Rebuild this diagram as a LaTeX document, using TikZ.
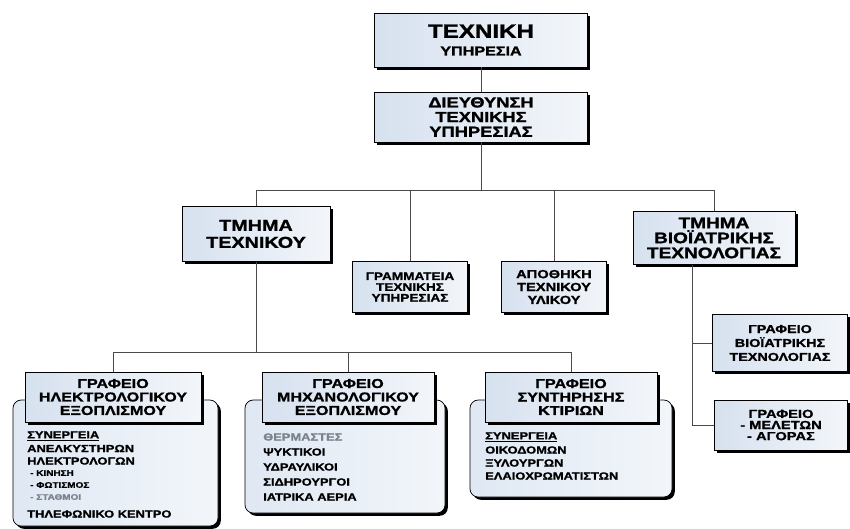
\documentclass[tikz,border=0pt]{standalone}
\usepackage{fontspec}
\newfontfamily\orgfont[FakeStretch=1.25, BoldFeatures={FakeBold=1.3}]{Liberation Sans}
\usetikzlibrary{positioning}
\usetikzlibrary{shadows}
\definecolor{boxblue}{HTML}{D6E1EF}
\definecolor{paneblue}{HTML}{DFE8F3}
\definecolor{linegray}{HTML}{4A4A4A}
\definecolor{fadetext}{HTML}{7C828C}
\newcommand{\unitpx}{0.03cm}

\begin{document}
\begin{tikzpicture}
	[x=0.03cm, y=-0.03cm,
	box/.style = {draw=black, line width=0.6pt, left color=boxblue, right color=boxblue!30!white, align=center, inner sep=0pt, font=\orgfont\bfseries,
		drop shadow={shadow xshift=2.4pt, shadow yshift=-2.4pt, fill=black, opacity=1}},
	pane/.style = {draw=black, line width=0.6pt, rounded corners=7pt, left color=paneblue, right color=paneblue!40!white,
		drop shadow={shadow xshift=2.4pt, shadow yshift=-2.4pt, fill=black, opacity=1}},
	link/.style = {draw=linegray, line width=0.7pt},
	item/.style = {anchor=west, inner sep=0pt, font=\orgfont\bfseries\fontsize{8.8}{10}\selectfont},
	subitem/.style = {item, font=\orgfont\bfseries\fontsize{6.8}{8}\selectfont}
	]
	\useasboundingbox[fill=white] (0,0) rectangle (850,528);

	% upper levels
	\node[box, minimum width=213*\unitpx, minimum height=54*\unitpx] (tech) at (481,40)
		{{\fontsize{16.5}{17}\selectfont ΤΕΧΝΙΚΗ}\\[3pt]{\fontsize{11}{11}\selectfont ΥΠΗΡΕΣΙΑ}};
	\node[box, minimum width=213*\unitpx, minimum height=50*\unitpx, font=\orgfont\bfseries\fontsize{12.5}{12.5}\selectfont] (dir) at (481,117)
		{ΔΙΕΥΘΥΝΣΗ\\ΤΕΧΝΙΚΗΣ\\ΥΠΗΡΕΣΙΑΣ};

	\node[box, minimum width=148*\unitpx, minimum height=55*\unitpx, font=\orgfont\bfseries\fontsize{13.5}{14.5}\selectfont] (tmtech) at (256,234)
		{ΤΜΗΜΑ\\ΤΕΧΝΙΚΟΥ};
	\node[box, minimum width=115*\unitpx, minimum height=51*\unitpx, font=\orgfont\bfseries\fontsize{9.3}{9.2}\selectfont] (gram) at (410,287)
		{ΓΡΑΜΜΑΤΕΙΑ\\ΤΕΧΝΙΚΗΣ\\ΥΠΗΡΕΣΙΑΣ};
	\node[box, minimum width=105*\unitpx, minimum height=51*\unitpx, font=\orgfont\bfseries\fontsize{10}{11}\selectfont] (apoth) at (554,287)
		{ΑΠΟΘΗΚΗ\\ΤΕΧΝΙΚΟΥ\\ΥΛΙΚΟΥ};
	\node[box, minimum width=162*\unitpx, minimum height=53*\unitpx, font=\orgfont\bfseries\fontsize{13}{12.8}\selectfont] (tmbio) at (714,238)
		{ΤΜΗΜΑ\\ΒΙΟΪΑΤΡΙΚΗΣ\\ΤΕΧΝΟΛΟΓΙΑΣ};

	% right branch
	\node[box, minimum width=135*\unitpx, minimum height=57*\unitpx, font=\orgfont\bfseries\fontsize{9.8}{11.9}\selectfont] (gbio) at (780,343)
		{ΓΡΑΦΕΙΟ\\ΒΙΟΪΑΤΡΙΚΗΣ\\ΤΕΧΝΟΛΟΓΙΑΣ};
	\node[box, minimum width=133*\unitpx, minimum height=50*\unitpx, font=\orgfont\bfseries\fontsize{10}{9.5}\selectfont] (gmel) at (781,425)
		{ΓΡΑΦΕΙΟ\\- ΜΕΛΕΤΩΝ\\- ΑΓΟΡΑΣ};

	% lower panels
	\draw[pane] (13,400) rectangle (218,526);
	\draw[pane] (245,400) rectangle (445,513);
	\draw[pane] (470,400) rectangle (672,497);

	\node[item] (elsyn) at (27,436) {\underline{ΣΥΝΕΡΓΕΙΑ}};
	\node[item] (elan) at (27,448.5) {ΑΝΕΛΚΥΣΤΗΡΩΝ};
	\node[item] (elhl) at (27,461) {ΗΛΕΚΤΡΟΛΟΓΩΝ};
	\node[subitem] (elkin) at (30,473) {- ΚΙΝΗΣΗ};
	\node[subitem] (elfot) at (30,485) {- ΦΩΤΙΣΜΟΣ};
	\node[subitem, text=fadetext] (elsta) at (30,497) {- ΣΤΑΘΜΟΙ};
	\node[item] (eltil) at (27,514) {ΤΗΛΕΦΩΝΙΚΟ ΚΕΝΤΡΟ};

	\node[item, text=fadetext] (mether) at (263,437) {ΘΕΡΜΑΣΤΕΣ};
	\node[item] (mepsy) at (263,452) {ΨΥΚΤΙΚΟΙ};
	\node[item] (mehyd) at (263,467) {ΥΔΡΑΥΛΙΚΟΙ};
	\node[item] (mesid) at (263,482) {ΣΙΔΗΡΟΥΡΓΟΙ};
	\node[item] (meaer) at (263,497) {ΙΑΤΡΙΚΑ ΑΕΡΙΑ};

	\node[item] (kisyn) at (485,437) {\underline{ΣΥΝΕΡΓΕΙΑ}};
	\node[item] (kioik) at (485,450) {ΟΙΚΟΔΟΜΩΝ};
	\node[item] (kixyl) at (485,463) {ΞΥΛΟΥΡΓΩΝ};
	\node[item] (kielx) at (485,476) {ΕΛΑΙΟΧΡΩΜΑΤΙΣΤΩΝ};

	\node[box, minimum width=176*\unitpx, minimum height=50*\unitpx, font=\orgfont\bfseries\fontsize{11}{11.5}\selectfont] (hel) at (113,397)
		{ΓΡΑΦΕΙΟ\\ΗΛΕΚΤΡΟΛΟΓΙΚΟΥ\\ΕΞΟΠΛΙΣΜΟΥ};
	\node[box, minimum width=172*\unitpx, minimum height=50*\unitpx, font=\orgfont\bfseries\fontsize{11}{11.5}\selectfont] (hmech) at (348,397)
		{ΓΡΑΦΕΙΟ\\ΜΗΧΑΝΟΛΟΓΙΚΟΥ\\ΕΞΟΠΛΙΣΜΟΥ};
	\node[box, minimum width=172*\unitpx, minimum height=50*\unitpx, font=\orgfont\bfseries\fontsize{11}{11.5}\selectfont] (hsyn) at (571,397)
		{ΓΡΑΦΕΙΟ\\ΣΥΝΤΗΡΗΣΗΣ\\ΚΤΙΡΙΩΝ};

	% connectors
	\coordinate (topbar) at (0,190);
	\coordinate (lowbar) at (0,352);
	\coordinate (biotrunk) at (692,0);
	\draw[link] (tech) -- (dir);
	\draw[link] (dir.south) -- (dir.south |- topbar);
	\draw[link] (tmtech.north) -- (tmtech.north |- topbar) -| (tmbio.north);
	\draw[link] (gram.north) -- (gram.north |- topbar);
	\draw[link] (apoth.north) -- (apoth.north |- topbar);
	\draw[link] (tmtech.south) -- (tmtech.south |- lowbar);
	\draw[link] (hel.north) -- (hel.north |- lowbar) -| (hsyn.north);
	\draw[link] (hmech.north) -- (hmech.north |- lowbar);
	\draw[link] (tmbio.south -| biotrunk) |- (gbio.west);
	\draw[link] (tmbio.south -| biotrunk) |- (gmel.west);
\end{tikzpicture}
\end{document}
